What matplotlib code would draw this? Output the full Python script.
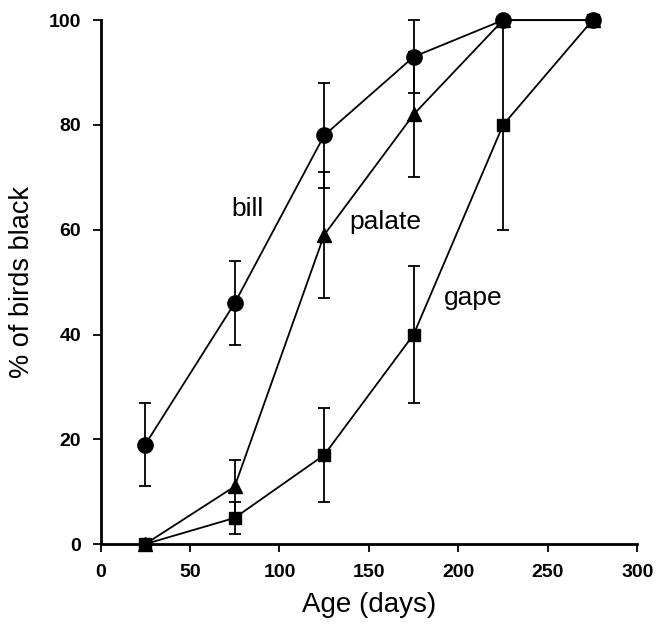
import matplotlib
matplotlib.use("Agg")
import matplotlib.pyplot as plt

plt.rcParams['font.family'] = ['Liberation Sans', 'DejaVu Sans']

# ages (days)
age = [25, 75, 125, 175, 225, 275]

# % of birds black, with error bar half-widths
bill = [19, 46, 78, 93, 100, 100]
bill_err = [8, 8, 10, 7, 0, 0]
palate = [0, 11, 59, 82, 100, 100]
palate_err = [0, 5, 12, 12, 0, 0]
gape = [0, 5, 17, 40, 80, 100]
gape_err = [0, 3, 9, 13, 20, 0]

fig = plt.figure(figsize=(6.57, 6.29), dpi=100)
ax = fig.add_axes([0.153, 0.135, 0.817, 0.833])

ebkw = dict(color='black', lw=1.3, elinewidth=1.3, capsize=4.5, capthick=1.3)
# drawn gape first so the bill circles sit on top
ax.errorbar(age, gape, yerr=gape_err, marker='s', ms=8.5, zorder=2, **ebkw)
ax.errorbar(age, palate, yerr=palate_err, marker='^', ms=10, zorder=3, **ebkw)
ax.errorbar(age, bill, yerr=bill_err, marker='o', ms=11, zorder=4, **ebkw)

ax.text(73, 64, 'bill', fontsize=19, va='center')
ax.text(139, 61.5, 'palate', fontsize=19, va='center')
ax.text(192, 47, 'gape', fontsize=19, va='center')

ax.set_xlim(0, 300)
ax.set_ylim(0, 100)
ax.set_xticks([0, 50, 100, 150, 200, 250, 300])
ax.set_yticks([0, 20, 40, 60, 80, 100])
ax.spines['top'].set_visible(False)
ax.spines['right'].set_visible(False)
ax.spines['left'].set_linewidth(2)
ax.spines['bottom'].set_linewidth(2)
ax.tick_params(direction='out', length=6, width=1.3, labelsize=14, pad=8)
for lab in ax.get_xticklabels() + ax.get_yticklabels():
    lab.set_fontweight('bold')
for art in ax.get_children():
    art.set_clip_on(False)

ax.set_xlabel('Age (days)', fontsize=20, labelpad=8)
ax.set_ylabel('% of birds black', fontsize=19.5, labelpad=10)

fig.savefig('out.png', dpi=100)
